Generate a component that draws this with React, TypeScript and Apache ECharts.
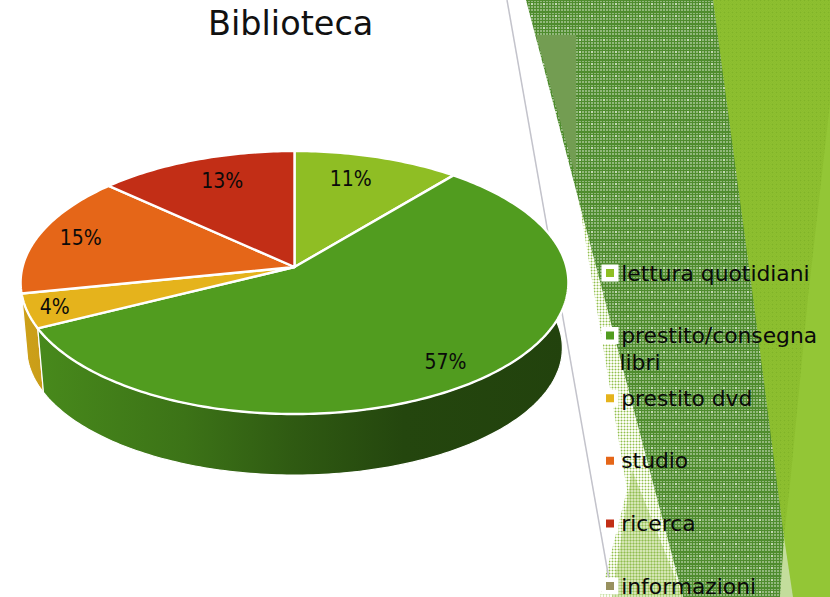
import React, { useEffect, useRef } from "react";
import * as echarts from "echarts";

const categories = ["lettura quotidiani", "prestito/consegna libri", "prestito dvd", "studio", "ricerca", "informazioni"];
const values = [11, 56.6, 4.2, 15, 13.2, 0];
const colors = ["#8fbe24", "#519c1f", "#e5b31c", "#e56618", "#c22e16", "#98915f"];
const titleText = "Biblioteca";

// Perspective of the tilted disc
const CX = 294.5;
const K = -0.118;
const TOP = { apexY: 267, a: 272, b: 129.7 };
const BOTTOM = { apexY: 333, a: 266, b: 125.3 };
// [radial factor, angular nudge in degrees] for each data label
const labelPlacement = [[0.77, -2.8], [0.846, 1.4], [0.9, 0], [0.84, 0.5], [0.775, 1.9], [0, 0]];

const total = values.reduce((s, v) => s + v, 0);

function project(deg: number, f: number, p: { apexY: number; a: number; b: number }) {
  const t = (deg * Math.PI) / 180;
  const u = Math.sin(t);
  const v = Math.cos(t);
  const d = 1 - K * f * v;
  return [CX + (p.a * f * u) / d, p.apexY - (p.b * f * v) / d];
}

function shade(hex: string, m: number) {
  const n = parseInt(hex.slice(1), 16);
  const c = [(n >> 16) & 255, (n >> 8) & 255, n & 255].map((x) => Math.round(x * m));
  return `rgb(${c[0]},${c[1]},${c[2]})`;
}

function tile(size: number, fn: (x: number, y: number) => string) {
  const c = document.createElement("canvas");
  c.width = size;
  c.height = size;
  const g = c.getContext("2d")!;
  for (let y = 0; y < size; y++) {
    for (let x = 0; x < size; x++) {
      g.fillStyle = fn(x, y);
      g.fillRect(x, y, 1, 1);
    }
  }
  return c;
}

function renderSlice(params: any, api: any) {
  const i = params.seriesIndex;
  const val = api.value(0);
  if (!val) return { type: "group", children: [] };
  let start = 0;
  for (let j = 0; j < i; j++) start += values[j];
  const a0 = (start / total) * 360;
  const a1 = ((start + val) / total) * 360;
  const steps = Math.max(4, Math.ceil(a1 - a0));
  const rim: number[][] = [];
  const base: number[][] = [];
  for (let s = 0; s <= steps; s++) {
    const a = a0 + ((a1 - a0) * s) / steps;
    rim.push(project(a, 1, TOP));
    base.push(project(a, 1, BOTTOM));
  }
  const mid = (a0 + a1) / 2;
  const color = colors[i];
  const [fr, nudge] = labelPlacement[i];
  const lp = project(mid + nudge, fr, TOP);
  const wallZ = Math.round(10 - 5 * Math.cos((mid * Math.PI) / 180));
  return {
    type: "group",
    children: [
      {
        type: "polygon",
        z2: wallZ,
        shape: { points: rim.concat(base.slice().reverse()) },
        style: {
          fill: new echarts.graphic.LinearGradient(
            20, 0, 568, 0,
            [
              { offset: 0, color: shade(color, 0.9) },
              { offset: 0.3, color: shade(color, 0.74) },
              { offset: 0.5, color: shade(color, 0.58) },
              { offset: 0.7, color: shade(color, 0.45) },
              { offset: 1, color: shade(color, 0.42) },
            ],
            true
          ),
          stroke: "#ffffff",
          lineWidth: 1.2,
        },
      },
      {
        type: "polygon",
        z2: 20,
        shape: { points: [project(0, 0, TOP)].concat(rim) },
        style: { fill: color, stroke: "#ffffff", lineWidth: 2.4, lineJoin: "round" },
      },
      {
        type: "text",
        z2: 30,
        x: lp[0],
        y: lp[1],
        style: {
          text: `${Math.round((val / total) * 100)}%`,
          fill: "#0a0a0a",
          font: '21px "DejaVu Sans Condensed", "DejaVu Sans"',
          align: "center",
          verticalAlign: "middle",
        },
      },
    ],
  };
}

export default function App() {
  const ref = useRef<HTMLDivElement>(null);
  useEffect(() => {
    const chart = echarts.init(ref.current!, null, { renderer: "svg" });
    const darkTile = tile(12, (x, y) => {
      if (x % 3 === 2 || y % 3 === 2 || y === 0) return "#4f8c2e";
      if (x >= 3 && x <= 4 && y >= 3 && y <= 4) return "#c4d8b6";
      return "#92b87c";
    });
    const brightTile = tile(4, (x, y) => (x === 0 && y === 0 ? "#7fb328" : (x + y) % 2 ? "#8abc2e" : "#8ec030"));
    const paleTile = tile(3, (x, y) => (x === 0 && y === 0 ? "#8fbf50" : x === 0 || y === 0 ? "#d5e6b5" : "#fbfdf6"));
    const midTile = tile(3, (x, y) => (x === 0 && y === 0 ? "#8fbf50" : x === 0 || y === 0 ? "#b3d080" : "#d4e6b3"));

    const poly = (points: number[][], fill: any) => ({ type: "polygon", shape: { points }, style: { fill } });

    chart.setOption({
      animation: false,
      backgroundColor: "#ffffff",
      title: {
        text: titleText,
        left: 208,
        top: 6,
        padding: 0,
        textStyle: { fontFamily: '"DejaVu Sans"', fontWeight: "normal", fontSize: 33.5, color: "#111111" },
      },
      legend: {
        orient: "vertical",
        left: 601.5,
        top: 262,
        height: 400,
        padding: 0,
        itemWidth: 12.5,
        itemHeight: 12.5,
        itemGap: 40.6,
        icon: "rect",
        selectedMode: false,
        itemStyle: { borderColor: "#ffffff", borderWidth: 4.5 },
        data: categories,
        formatter: (n: string) => n.replace(" libri", ""),
        textStyle: { fontFamily: '"DejaVu Sans"', fontSize: 21.8, color: "#0a0a0a", padding: 0 },
      },
      graphic: {
        elements: [
          poly([[713, 0], [830, 0], [830, 597], [780, 597]], { image: brightTile, repeat: "repeat" }),
          poly([[830, 103], [808, 297], [790, 484], [784, 537], [793, 597], [830, 597]], "#93c636"),
          poly([[784, 537], [779, 597], [793, 597]], "#c3dd9c"),
          poly([[577, 190], [627, 490], [600, 597], [683, 597]], { image: paleTile, repeat: "repeat" }),
          poly([[632, 470], [612, 597], [683, 597]], { image: midTile, repeat: "repeat" }),
          poly([[526, 0], [713, 0], [753, 297], [784, 537], [780, 597], [683, 597]], { image: darkTile, repeat: "repeat" }),
          poly([[536, 35], [576, 35], [576, 177]], "#739d52"),
          { type: "line", shape: { x1: 507, y1: 0, x2: 610, y2: 585 }, style: { stroke: "#c3c3cb", lineWidth: 1.5 } },
          {
            type: "text",
            x: 619.5,
            y: 362,
            z: 5,
            style: {
              text: "libri",
              font: '21.8px "DejaVu Sans"',
              fill: "#0a0a0a",
              verticalAlign: "middle",
            },
          },
        ],
      },
      series: categories.map((name, i) => ({
        type: "custom",
        name,
        coordinateSystem: "none",
        renderItem: renderSlice,
        itemStyle: { color: colors[i] },
        data: [[values[i]]],
      })),
    });
    return () => chart.dispose();
  }, []);
  return <div ref={ref} style={{ position: "absolute", left: 0, top: 0, width: 830, height: 597 }} />;
}
